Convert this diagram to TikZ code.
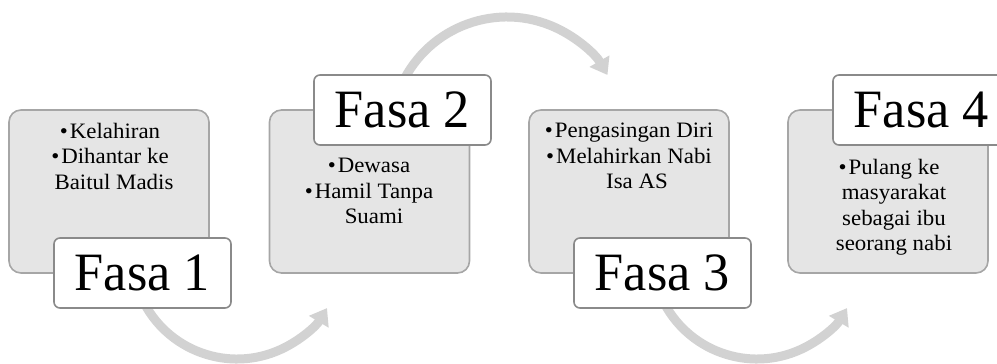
\documentclass[tikz,border=0pt]{standalone}
\usepackage{fontspec}
\setmainfont{Liberation Serif}
\newfontfamily\bodyfont[FakeStretch=1.04]{Liberation Serif}
\newfontfamily\phasefont[FakeStretch=0.97]{Liberation Serif}
\usetikzlibrary{arrows.meta}
\definecolor{boxfill}{HTML}{E5E5E5}
\definecolor{boxline}{HTML}{A6A6A6}
\definecolor{lblline}{HTML}{8A8A8A}
\definecolor{arrowgray}{HTML}{D2D2D2}
\begin{document}
\begin{tikzpicture}[x=1pt,y=-1pt,
  phase/.style={draw=boxline, line width=1.6pt, fill=boxfill, rounded corners=12pt,
    minimum width=200pt, minimum height=163pt, inner sep=0pt},
  lbl/.style={draw=lblline, line width=1.6pt, fill=white, rounded corners=6pt,
    minimum width=177pt, minimum height=70pt, inner sep=0pt,
    font=\phasefont\fontsize{54}{60}\selectfont},
  body/.style={font=\bodyfont\fontsize{22}{25.5}\selectfont, align=center,
    inner sep=0pt, anchor=north},
  flow/.style={draw=arrowgray, line width=9pt, -{Triangle[length=16pt,width=22pt]}}]
\useasboundingbox (0,0) rectangle (997,364);
\clip (0,0) rectangle (997,364);
% phase boxes
\node[phase] (b1) at (109,191.5) {};
\node[phase] (b2) at (369.5,191.5) {};
\node[phase] (b3) at (629,191.5) {};
\node[phase] (b4) at (888,191.5) {};
% body texts
\node[body] (t1) at (110,123) {•\kern2pt Kelahiran\\•\kern2pt Dihantar ke\\\hspace*{8pt}Baitul Madis};
\node[body] (t2) at (369,158) {•\kern2pt Dewasa\\•\kern2pt Hamil Tanpa\\\hspace*{10pt}Suami};
\node[body] (t3) at (629,123) {•\kern2pt Pengasingan Diri\\•\kern2pt Melahirkan Nabi\\\hspace*{16pt}Isa AS};
\node[body] (t4) at (889,159) {•\kern2pt Pulang ke\\\hspace*{10pt}masyarakat\\\hspace*{10pt}sebagai ibu\\\hspace*{10pt}seorang nabi};
% curved arrows
\coordinate (c1) at (237,254);
\coordinate (c2) at (507,133);
\coordinate (c3) at (757,254);
\draw[flow] ([shift={(155:105)}]c1) arc[start angle=155, end angle=31, radius=105];
\draw[flow] ([shift={(205:116)}]c2) arc[start angle=205, end angle=330, radius=116];
\draw[flow] ([shift={(155:105)}]c3) arc[start angle=155, end angle=31, radius=105];
% labels
\node[lbl] (l1) at (142.5,273) {Fasa 1};
\node[lbl] (l2) at (402.5,110) {Fasa 2};
\node[lbl] (l3) at (662.5,273) {Fasa 3};
\node[lbl] (l4) at (921.5,110) {Fasa 4};
\end{tikzpicture}
\end{document}
